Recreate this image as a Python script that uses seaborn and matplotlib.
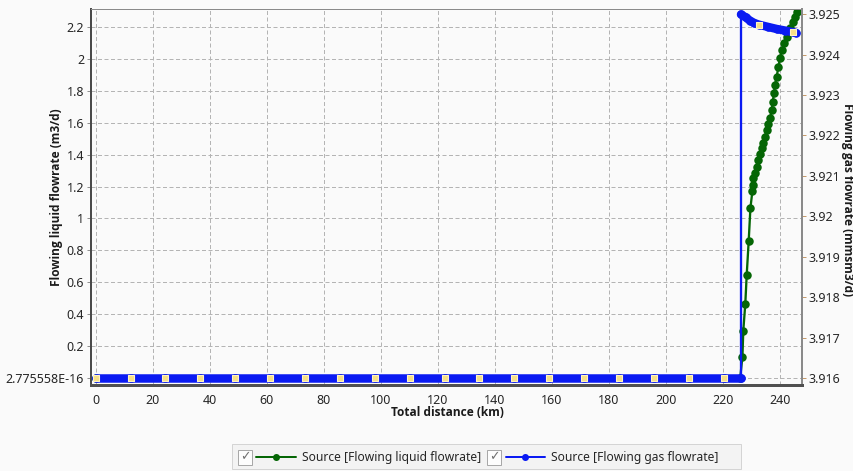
import matplotlib
matplotlib.use("Agg")
import matplotlib.pyplot as plt
import seaborn as sns
import pandas as pd
from matplotlib.patches import Rectangle
from matplotlib.lines import Line2D

# ---------------- data ----------------
station_km = [0.0, 12.24, 24.48, 36.72, 48.96, 61.2, 73.44, 85.68, 97.92, 110.16,
              122.4, 134.64, 146.88, 159.12, 171.36, 183.6, 195.84, 208.08, 220.32]

liquid_rise_km = [226.1, 226.9, 227.2, 227.9, 228.4, 229.1, 229.7, 230.4, 230.5, 230.7,
                  231.3, 231.9, 232.5, 233.1, 233.7, 234.1, 234.8, 235.4, 235.9, 236.6,
                  237.2, 237.5, 238.0, 238.3, 238.9, 239.5, 240.1, 240.7, 241.5, 242.5,
                  243.6, 244.6, 245.4, 246.2]
liquid_rise_m3d = [0.0, 0.135, 0.298, 0.465, 0.646, 0.86, 1.065, 1.172, 1.21, 1.254,
                   1.285, 1.324, 1.366, 1.404, 1.441, 1.473, 1.51, 1.554, 1.591, 1.629,
                   1.679, 1.729, 1.785, 1.835, 1.885, 1.948, 2.004, 2.054, 2.098, 2.136,
                   2.192, 2.229, 2.261, 2.292]
liquid_km = station_km + liquid_rise_km
liquid_m3d = [0.0] * len(station_km) + liquid_rise_m3d

gas_flat_km = station_km + [226.4]
gas_flat_mmsm3d = [3.916] * len(gas_flat_km)
gas_top_km = [226.4, 228.0, 229.5, 231.0, 232.56, 236.0, 239.0, 242.0, 244.8, 245.8]
gas_top_mmsm3d = [3.92499, 3.92492, 3.92484, 3.92478, 3.92474, 3.92468, 3.92463,
                  3.92459, 3.92455, 3.92453]
gas_km = gas_flat_km + gas_top_km
gas_mmsm3d = gas_flat_mmsm3d + gas_top_mmsm3d

# indices of the highlighted (yellow) stations along the gas series
highlight_idx = list(range(len(station_km))) + [len(gas_flat_km) + 4, len(gas_flat_km) + 8]

x_ticks = [0, 20, 40, 60, 80, 100, 120, 140, 160, 180, 200, 220, 240]
left_ticks = [0.0, 0.2, 0.4, 0.6, 0.8, 1.0, 1.2, 1.4, 1.6, 1.8, 2.0, 2.2]
left_labels = ["2.775558E-16", "0.2", "0.4", "0.6", "0.8", "1", "1.2", "1.4", "1.6",
               "1.8", "2", "2.2"]
right_ticks = [3.916, 3.917, 3.918, 3.919, 3.920, 3.921, 3.922, 3.923, 3.924, 3.925]
right_labels = ["3.916", "3.917", "3.918", "3.919", "3.92", "3.921", "3.922", "3.923",
                "3.924", "3.925"]

liq_label = "Source [Flowing liquid flowrate]"
gas_label = "Source [Flowing gas flowrate]"

# ---------------- style ----------------
sns.set_theme(style="white")
plt.rcParams["font.family"] = ["Noto Sans", "DejaVu Sans"]
BOLD_FAMILY = ["Open Sans", "DejaVu Sans"]

GREEN = "#056605"
BLUE = "#0a1af2"
BG = "#fafafa"
W, H = 854, 471
PT = 72 / 100  # points per pixel at dpi 100

fig = plt.figure(figsize=(W / 100, H / 100), dpi=100, facecolor=BG)
L, R, T, B = 91, 802, 9, 384.5
ax = fig.add_axes([L / W, 1 - B / H, (R - L) / W, (B - T) / H])
ax.set_facecolor(BG)
ax2 = ax.twinx()
ax2.patch.set_visible(False)

liq_df = pd.DataFrame({"km": liquid_km, "q": liquid_m3d})
gas_df = pd.DataFrame({"km": gas_km, "q": gas_mmsm3d})
gas_flat_df = pd.DataFrame({"km": gas_flat_km, "q": gas_flat_mmsm3d})
gas_top_df = pd.DataFrame({"km": gas_top_km, "q": gas_top_mmsm3d})
hl_df = gas_df.iloc[highlight_idx]

# liquid (left axis)
sns.lineplot(data=liq_df, x="km", y="q", ax=ax, color=GREEN, lw=2.3 * PT, marker="o",
             markersize=8.5 * PT, markeredgewidth=0, estimator=None, sort=False,
             legend=False, zorder=3)

# gas (right axis): dense station bar + thin connecting line
for seg in (gas_flat_df, gas_top_df):
    sns.lineplot(data=seg, x="km", y="q", ax=ax2, color=BLUE, lw=8.5 * PT,
                 estimator=None, sort=False, legend=False, zorder=3,
                 solid_capstyle="round")
sns.lineplot(data=gas_df, x="km", y="q", ax=ax2, color=BLUE, lw=2.3 * PT, marker="o",
             markersize=8.5 * PT, markeredgewidth=0, estimator=None, sort=False,
             legend=False, zorder=3)
sns.scatterplot(data=hl_df, x="km", y="q", ax=ax2, marker="s", s=(6 * PT) ** 2,
                color="#f6df86", edgecolor="#fff3c4", linewidth=0.8, zorder=5,
                legend=False)

# axes ranges
ax.set_xlim(-1.65, 247.8)
ax.set_ylim(-0.0388, 2.311)
ax2.set_ylim(3.915847, 3.925125)

ax.set_xticks(x_ticks)
ax.set_xticklabels([str(v) for v in x_ticks])
ax.set_yticks(left_ticks)
ax.set_yticklabels(left_labels)
ax2.set_yticks(right_ticks)
ax2.set_yticklabels(right_labels)

ax.grid(True, color="#b4b4b4", lw=1 * PT, ls=(0, (4, 2.5)))
ax2.grid(False)

tick_kw = dict(labelsize=9, labelcolor="#262626", length=4 * PT, width=1 * PT)
ax.tick_params(axis="x", colors="#909090", pad=4, **tick_kw)
ax.tick_params(axis="y", colors="#909090", pad=2, left=True, **tick_kw)
ax2.tick_params(axis="y", colors="#c49a6c", pad=2, right=True, **tick_kw)
for a in (ax, ax2):
    for lab in a.get_xticklabels() + a.get_yticklabels():
        lab.set_color("#262626")

for a in (ax, ax2):
    a.spines["left"].set_color("#4a4a4a")
    a.spines["left"].set_linewidth(2 * PT)
    a.spines["bottom"].set_color("#505050")
    a.spines["bottom"].set_linewidth(3 * PT)
    a.spines["top"].set_color("#8a8a8a")
    a.spines["top"].set_linewidth(1 * PT)
    a.spines["right"].set_color("#8a8a8a")
    a.spines["right"].set_linewidth(2 * PT)

ax.set_xlabel("")
ax.set_ylabel("")
ax2.set_ylabel("")
lab_kw = dict(ha="center", va="center", fontsize=8.6, fontweight="bold",
              color="#1a1a1a", family=BOLD_FAMILY)
fig.text(57 / W, 1 - 197 / H, "Flowing liquid flowrate (m3/d)", rotation=90, **lab_kw)
fig.text(848 / W, 1 - 200 / H, "Flowing gas flowrate (mmsm3/d)", rotation=-90, **lab_kw)
fig.text(447 / W, 1 - 413 / H, "Total distance (km)", **lab_kw)

# ---------------- legend strip ----------------
def fx(px):
    return px / W


def fy(py):
    return 1 - py / H


fig.patches.append(Rectangle((fx(232), fy(469)), fx(741) - fx(232), fy(444) - fy(469),
                             transform=fig.transFigure, facecolor="#f3f3f3",
                             edgecolor="#d4d4d4", lw=1 * PT))
ly = 457
for cb_x, ln_x0, ln_x1, color, txt_x, label in (
        (238, 256, 296, GREEN, 302, liq_label),
        (487, 506, 545, BLUE, 551, gas_label)):
    fig.patches.append(Rectangle((fx(cb_x), fy(ly + 7.5)), 14 / W, 15 / H,
                                 transform=fig.transFigure, facecolor="#fdfdfd",
                                 edgecolor="#a8a8a8", lw=1 * PT))
    fig.text(fx(cb_x + 7), fy(ly), "\u2713", ha="center", va="center", fontsize=9,
             color="#707070", family="DejaVu Sans")
    fig.lines.append(Line2D([fx(ln_x0), fx(ln_x1)], [fy(ly), fy(ly)],
                            transform=fig.transFigure, color=color, lw=2 * PT))
    fig.lines.append(Line2D([fx((ln_x0 + ln_x1) / 2)], [fy(ly)],
                            transform=fig.transFigure, color=color, marker="o",
                            markersize=7 * PT, markeredgewidth=0))
    fig.text(fx(txt_x), fy(ly), label, ha="left", va="center", fontsize=8.7,
             color="#262626")

fig.savefig("out.png", dpi=100, facecolor=BG)
